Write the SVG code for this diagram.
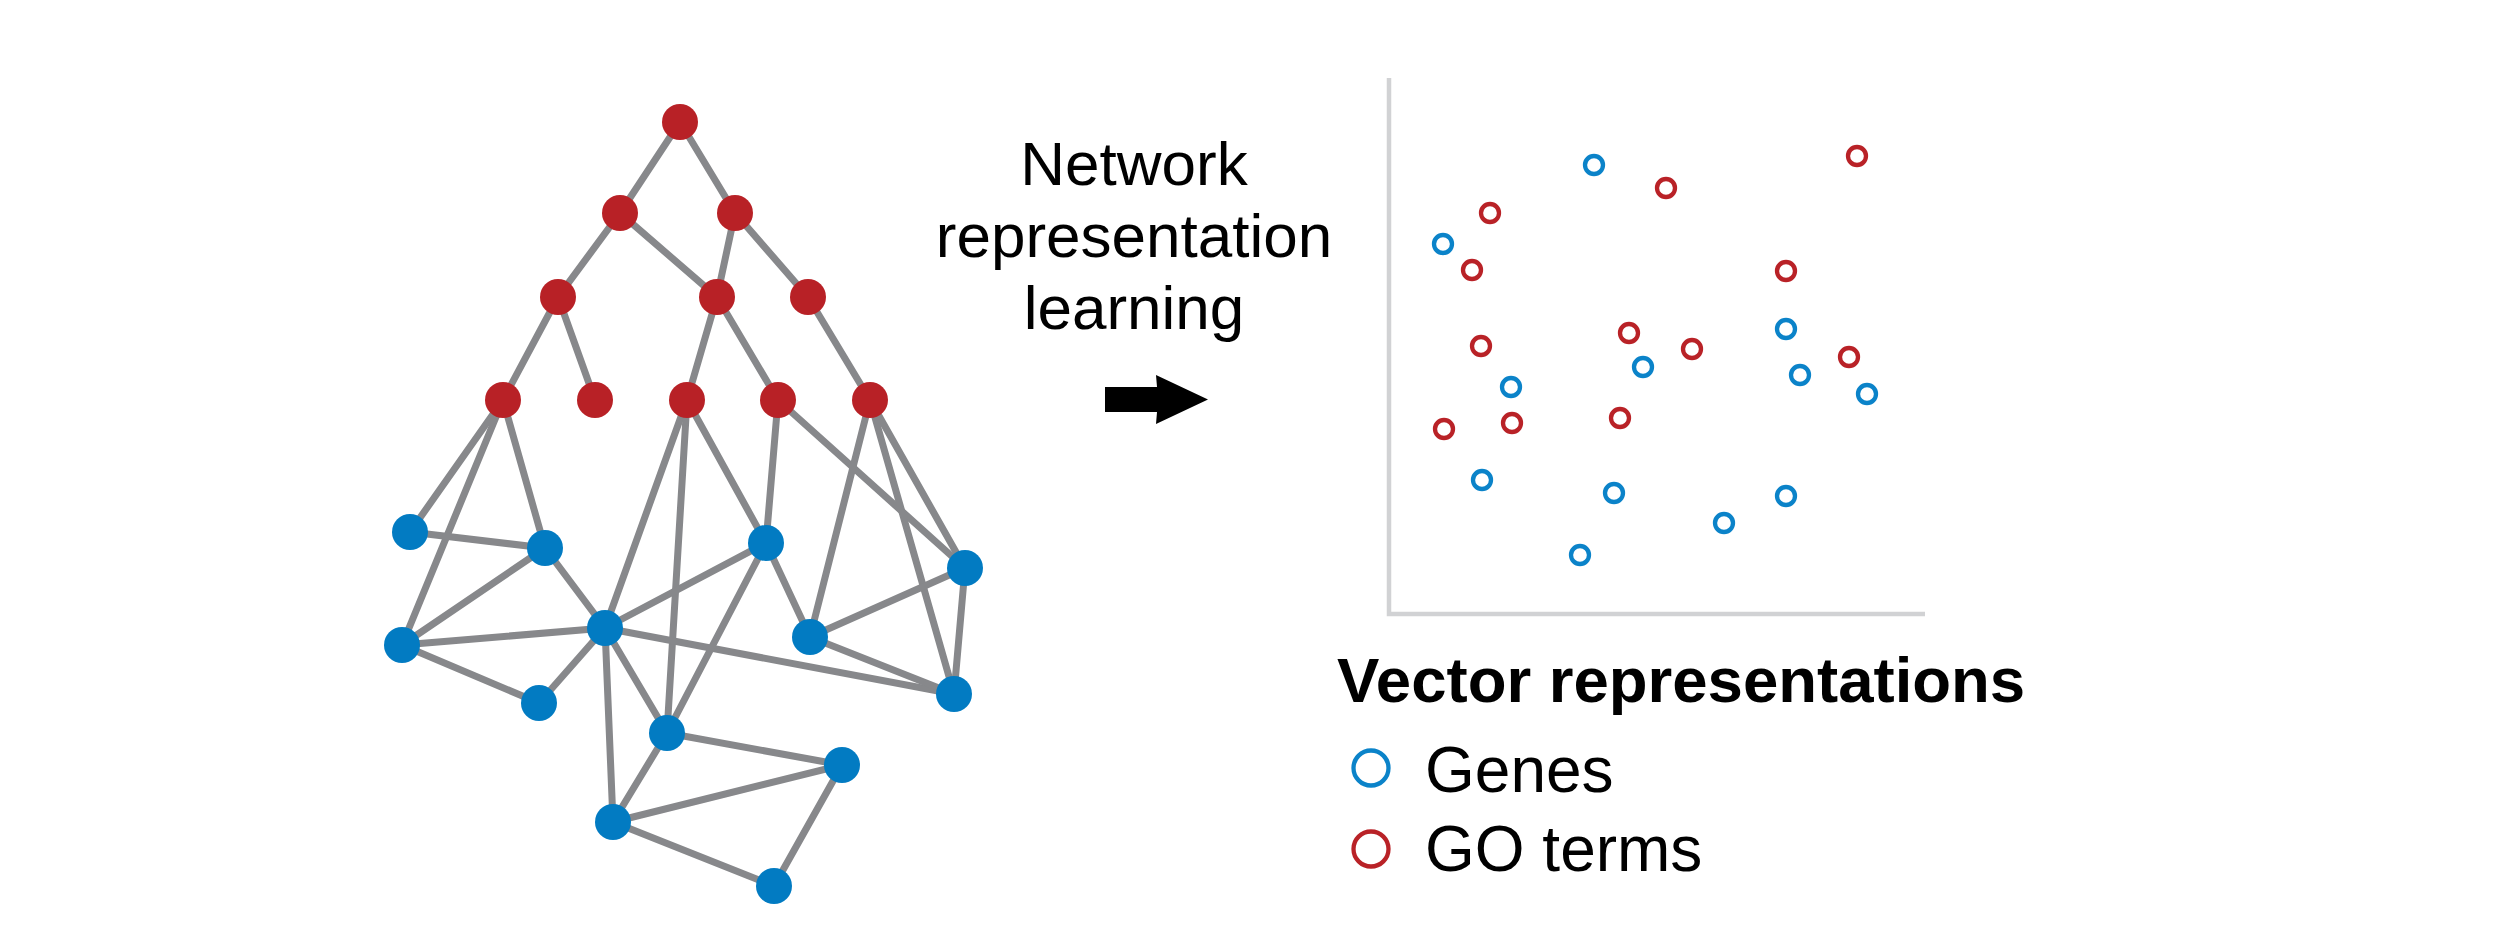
<svg xmlns="http://www.w3.org/2000/svg" width="2500" height="940" viewBox="0 0 2500 940">
<style>
.e{stroke:#87888b;stroke-width:7;stroke-linecap:round}
.r{fill:#b82126}
.b{fill:#027bc2}
.sr{fill:none;stroke:#b92227;stroke-width:4.3}
.sb{fill:none;stroke:#0b83c9;stroke-width:4.3}
.t{font-family:"Liberation Sans",Arial,sans-serif;fill:#000}
</style>
<rect width="2500" height="940" fill="#fff"/>
<g id="connectors">
<line class="e" x1="680" y1="122" x2="620" y2="213"/>
<line class="e" x1="680" y1="122" x2="735" y2="213"/>
<line class="e" x1="620" y1="213" x2="558" y2="297"/>
<line class="e" x1="620" y1="213" x2="717" y2="297"/>
<line class="e" x1="735" y1="213" x2="717" y2="297"/>
<line class="e" x1="735" y1="213" x2="808" y2="297"/>
<line class="e" x1="558" y1="297" x2="503" y2="400"/>
<line class="e" x1="558" y1="297" x2="595" y2="400"/>
<line class="e" x1="717" y1="297" x2="687" y2="400"/>
<line class="e" x1="717" y1="297" x2="778" y2="400"/>
<line class="e" x1="808" y1="297" x2="870" y2="400"/>
<line class="e" x1="503" y1="400" x2="410" y2="532"/>
<line class="e" x1="503" y1="400" x2="402" y2="645"/>
<line class="e" x1="503" y1="400" x2="545" y2="548"/>
<line class="e" x1="687" y1="400" x2="605" y2="628"/>
<line class="e" x1="687" y1="400" x2="667" y2="733"/>
<line class="e" x1="687" y1="400" x2="766" y2="543"/>
<line class="e" x1="778" y1="400" x2="766" y2="543"/>
<line class="e" x1="778" y1="400" x2="965" y2="568"/>
<line class="e" x1="870" y1="400" x2="810" y2="637"/>
<line class="e" x1="870" y1="400" x2="954" y2="694"/>
<line class="e" x1="870" y1="400" x2="965" y2="568"/>
<line class="e" x1="410" y1="532" x2="545" y2="548"/>
<line class="e" x1="545" y1="548" x2="402" y2="645"/>
<line class="e" x1="545" y1="548" x2="605" y2="628"/>
<line class="e" x1="402" y1="645" x2="605" y2="628"/>
<line class="e" x1="402" y1="645" x2="539" y2="703"/>
<line class="e" x1="605" y1="628" x2="539" y2="703"/>
<line class="e" x1="605" y1="628" x2="766" y2="543"/>
<line class="e" x1="605" y1="628" x2="954" y2="694"/>
<line class="e" x1="605" y1="628" x2="667" y2="733"/>
<line class="e" x1="605" y1="628" x2="613" y2="822"/>
<line class="e" x1="766" y1="543" x2="810" y2="637"/>
<line class="e" x1="766" y1="543" x2="667" y2="733"/>
<line class="e" x1="810" y1="637" x2="965" y2="568"/>
<line class="e" x1="810" y1="637" x2="954" y2="694"/>
<line class="e" x1="965" y1="568" x2="954" y2="694"/>
<line class="e" x1="667" y1="733" x2="613" y2="822"/>
<line class="e" x1="667" y1="733" x2="842" y2="765"/>
<line class="e" x1="613" y1="822" x2="842" y2="765"/>
<line class="e" x1="613" y1="822" x2="774" y2="886"/>
<line class="e" x1="842" y1="765" x2="774" y2="886"/>
</g>
<g id="go-nodes">
<circle id="r0" class="r" cx="680" cy="122" r="18"/>
<circle id="r1" class="r" cx="620" cy="213" r="18"/>
<circle id="r2" class="r" cx="735" cy="213" r="18"/>
<circle id="r3" class="r" cx="558" cy="297" r="18"/>
<circle id="r4" class="r" cx="717" cy="297" r="18"/>
<circle id="r5" class="r" cx="808" cy="297" r="18"/>
<circle id="r6" class="r" cx="503" cy="400" r="18"/>
<circle id="r7" class="r" cx="595" cy="400" r="18"/>
<circle id="r8" class="r" cx="687" cy="400" r="18"/>
<circle id="r9" class="r" cx="778" cy="400" r="18"/>
<circle id="r10" class="r" cx="870" cy="400" r="18"/>
</g>
<g id="gene-nodes">
<circle id="b1" class="b" cx="410" cy="532" r="18"/>
<circle id="b2" class="b" cx="545" cy="548" r="18"/>
<circle id="b3" class="b" cx="766" cy="543" r="18"/>
<circle id="b4" class="b" cx="965" cy="568" r="18"/>
<circle id="b5" class="b" cx="402" cy="645" r="18"/>
<circle id="b6" class="b" cx="605" cy="628" r="18"/>
<circle id="b7" class="b" cx="810" cy="637" r="18"/>
<circle id="b8" class="b" cx="539" cy="703" r="18"/>
<circle id="b9" class="b" cx="954" cy="694" r="18"/>
<circle id="b10" class="b" cx="667" cy="733" r="18"/>
<circle id="b11" class="b" cx="842" cy="765" r="18"/>
<circle id="b12" class="b" cx="613" cy="822" r="18"/>
<circle id="b13" class="b" cx="774" cy="886" r="18"/>
</g>
<g id="label">
<text class="t" font-size="62" text-anchor="middle" x="1134" y="185">Network</text>
<text class="t" font-size="62" text-anchor="middle" x="1134" y="257">representation</text>
<text class="t" font-size="62" text-anchor="middle" x="1134" y="329">learning</text>
</g>
<g id="arrow">
<polygon points="1105,387 1157,387 1156,375 1208,399.5 1156,424 1157,412 1105,412" fill="#000"/>
</g>
<g id="scatter">
<polyline points="1389,78 1389,614 1925,614" fill="none" stroke="#d1d2d4" stroke-width="4.5"/>
<circle class="sb" cx="1594" cy="165" r="9"/>
<circle class="sr" cx="1666" cy="188" r="9"/>
<circle class="sr" cx="1857" cy="156" r="9"/>
<circle class="sr" cx="1490" cy="213" r="9"/>
<circle class="sb" cx="1443" cy="244" r="9"/>
<circle class="sr" cx="1472" cy="270" r="9"/>
<circle class="sr" cx="1786" cy="271" r="9"/>
<circle class="sb" cx="1786" cy="329" r="9"/>
<circle class="sr" cx="1481" cy="346" r="9"/>
<circle class="sr" cx="1629" cy="333" r="9"/>
<circle class="sr" cx="1692" cy="349" r="9"/>
<circle class="sb" cx="1643" cy="367" r="9"/>
<circle class="sb" cx="1800" cy="375" r="9"/>
<circle class="sr" cx="1849" cy="357" r="9"/>
<circle class="sb" cx="1511" cy="387" r="9"/>
<circle class="sb" cx="1867" cy="394" r="9"/>
<circle class="sr" cx="1444" cy="429" r="9"/>
<circle class="sr" cx="1512" cy="423" r="9"/>
<circle class="sr" cx="1620" cy="418" r="9"/>
<circle class="sb" cx="1482" cy="480" r="9"/>
<circle class="sb" cx="1614" cy="493" r="9"/>
<circle class="sb" cx="1786" cy="496" r="9"/>
<circle class="sb" cx="1724" cy="523" r="9"/>
<circle class="sb" cx="1580" cy="555" r="9"/>
</g>
<g id="legend">
<text class="t" font-size="63.5" font-weight="bold" x="1337" y="702">Vector representations</text>
<circle class="sb" cx="1371" cy="768" r="17.5" stroke-width="7"/>
<text class="t" font-size="64" x="1425" y="792">Genes</text>
<circle class="sr" cx="1371" cy="849" r="17.5" stroke-width="7"/>
<text class="t" font-size="64" x="1425" y="871">GO terms</text>
</g>
</svg>
